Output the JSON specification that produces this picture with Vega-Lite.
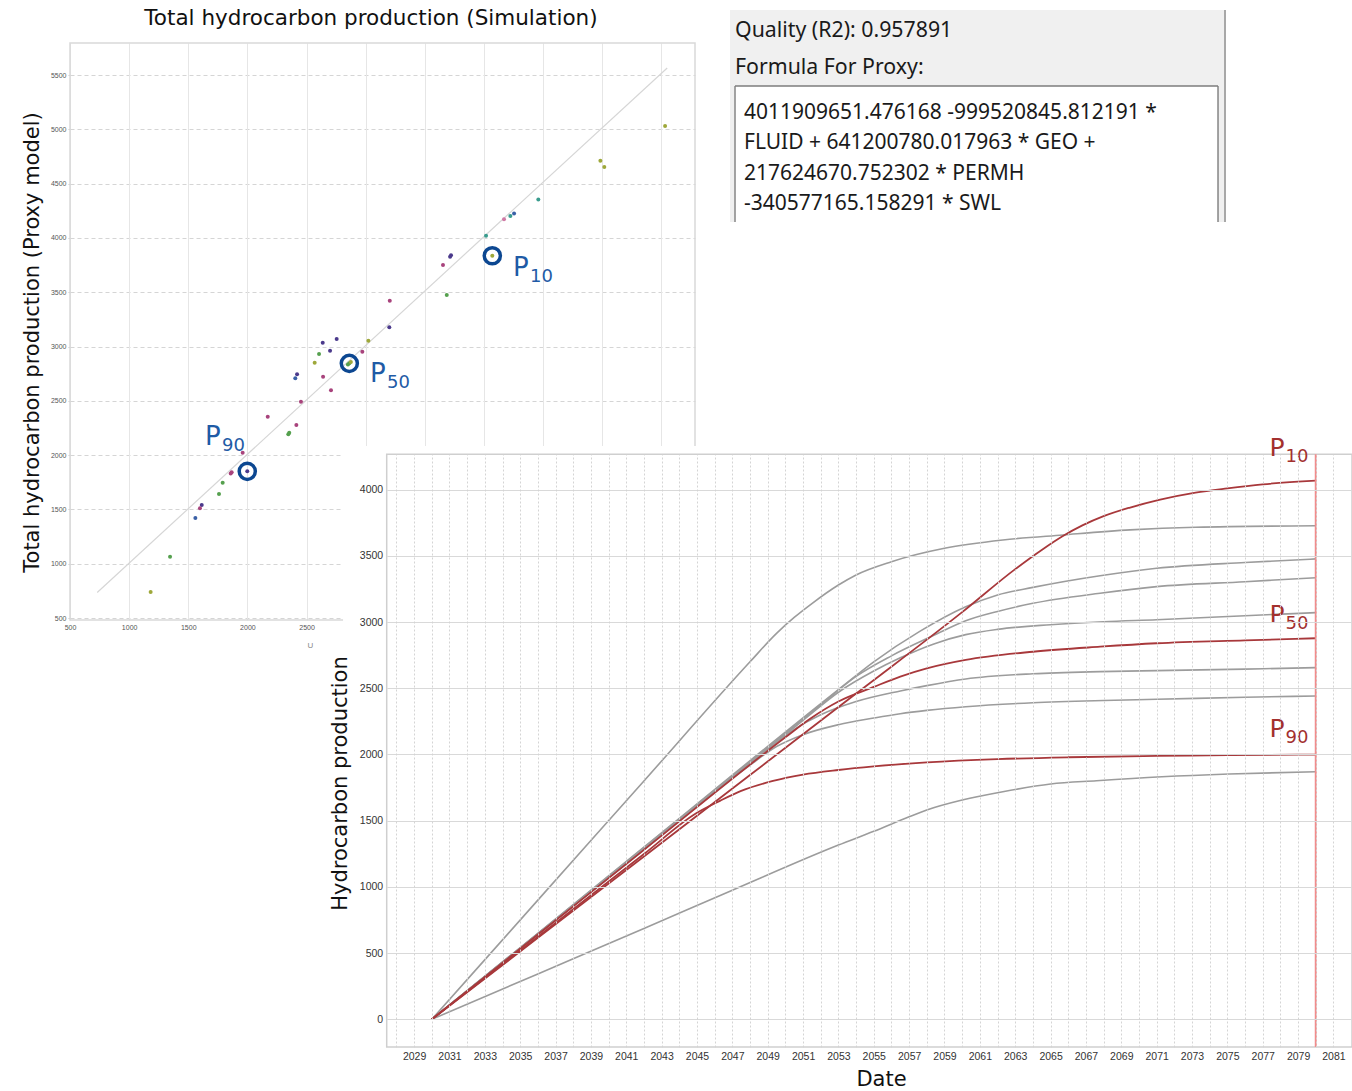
{
  "$schema": "https://vega.github.io/schema/vega-lite/v6.json",
  "width": 1352,
  "height": 1091,
  "autosize": "none",
  "padding": 0,
  "background": "white",
  "config": {"view": {"stroke": null}},
  "data": {"values": [{"frame": "panel"}]},
  "datasets": {
    "scatter": [
      {"sim": 2637, "proxy": 3035, "g": "g1"}, {"sim": 2755, "proxy": 3069, "g": "g1"}, {"sim": 2606, "proxy": 2931, "g": "g2"},
      {"sim": 2699, "proxy": 2961, "g": "g1"}, {"sim": 2569, "proxy": 2851, "g": "g4"}, {"sim": 2405, "proxy": 2707, "g": "g6"},
      {"sim": 2420, "proxy": 2744, "g": "g1"}, {"sim": 2640, "proxy": 2722, "g": "g3"}, {"sim": 2707, "proxy": 2597, "g": "g3"},
      {"sim": 2850, "proxy": 2835, "g": "g2"}, {"sim": 2862, "proxy": 2845, "g": "g2"}, {"sim": 2875, "proxy": 2858, "g": "g4"},
      {"sim": 2453, "proxy": 2492, "g": "g3"}, {"sim": 2172, "proxy": 2354, "g": "g3"}, {"sim": 2414, "proxy": 2277, "g": "g3"},
      {"sim": 2346, "proxy": 2192, "g": "g2"}, {"sim": 2354, "proxy": 2206, "g": "g2"}, {"sim": 1960, "proxy": 2022, "g": "g3"},
      {"sim": 1999, "proxy": 1851, "g": "g1"}, {"sim": 1859, "proxy": 1832, "g": "g3"}, {"sim": 1867, "proxy": 1842, "g": "g3"},
      {"sim": 1791, "proxy": 1746, "g": "g2"}, {"sim": 1760, "proxy": 1642, "g": "g2"}, {"sim": 1614, "proxy": 1540, "g": "g1"},
      {"sim": 1599, "proxy": 1510, "g": "g3"}, {"sim": 1560, "proxy": 1421, "g": "g6"}, {"sim": 1346, "proxy": 1065, "g": "g2"},
      {"sim": 1182, "proxy": 739, "g": "g4"}, {"sim": 5532, "proxy": 5030, "g": "g4"}, {"sim": 4985, "proxy": 4711, "g": "g4"},
      {"sim": 5018, "proxy": 4653, "g": "g4"}, {"sim": 4460, "proxy": 4355, "g": "g5"}, {"sim": 4255, "proxy": 4226, "g": "g6"},
      {"sim": 4224, "proxy": 4202, "g": "g5"}, {"sim": 4170, "proxy": 4171, "g": "g7"}, {"sim": 4018, "proxy": 4020, "g": "g5"},
      {"sim": 4071, "proxy": 3836, "g": "g4"}, {"sim": 3722, "proxy": 3840, "g": "g1"}, {"sim": 3714, "proxy": 3827, "g": "g1"},
      {"sim": 3654, "proxy": 3750, "g": "g3"}, {"sim": 3686, "proxy": 3474, "g": "g2"}, {"sim": 3204, "proxy": 3422, "g": "g3"},
      {"sim": 3200, "proxy": 3177, "g": "g1"}, {"sim": 3023, "proxy": 3053, "g": "g4"}, {"sim": 2972, "proxy": 2952, "g": "g3"}
    ],
    "rings": [
      {"p": "P10", "sim": 4071, "proxy": 3836},
      {"p": "P50", "sim": 2862, "proxy": 2845},
      {"p": "P90", "sim": 1999, "proxy": 1851}
    ],
    "blueLabels": [
      {"sub": "10", "sim": 4246, "proxy": 3649},
      {"sub": "50", "sim": 3037, "proxy": 2673},
      {"sub": "90", "sim": 1642, "proxy": 2093}
    ],
    "redLabels": [
      {"sub": "10", "year": 2077.38, "v": 4254},
      {"sub": "50", "year": 2077.38, "v": 2991},
      {"sub": "90", "year": 2077.38, "v": 2134}
    ],
    "curves": [
      {"s": "A", "year": 2030, "v": 0}, {"s": "A", "year": 2036, "v": 900}, {"s": "A", "year": 2042, "v": 1800}, {"s": "A", "year": 2048, "v": 2700},
      {"s": "A", "year": 2049.5, "v": 2915}, {"s": "A", "year": 2050.5, "v": 3035}, {"s": "A", "year": 2051.5, "v": 3140}, {"s": "A", "year": 2053, "v": 3280},
      {"s": "A", "year": 2054, "v": 3356}, {"s": "A", "year": 2056, "v": 3456}, {"s": "A", "year": 2059, "v": 3557}, {"s": "A", "year": 2062.3, "v": 3620},
      {"s": "A", "year": 2065.7, "v": 3658}, {"s": "A", "year": 2069.5, "v": 3696}, {"s": "A", "year": 2073.2, "v": 3716}, {"s": "A", "year": 2080, "v": 3727},

      {"s": "B", "year": 2030, "v": 0}, {"s": "B", "year": 2036, "v": 650}, {"s": "B", "year": 2042, "v": 1300}, {"s": "B", "year": 2053, "v": 2490},
      {"s": "B", "year": 2055, "v": 2700}, {"s": "B", "year": 2057.6, "v": 2930}, {"s": "B", "year": 2060.2, "v": 3116}, {"s": "B", "year": 2062, "v": 3205},
      {"s": "B", "year": 2064, "v": 3262}, {"s": "B", "year": 2067.8, "v": 3350}, {"s": "B", "year": 2071, "v": 3406}, {"s": "B", "year": 2076, "v": 3450},
      {"s": "B", "year": 2080, "v": 3477},

      {"s": "C", "year": 2030, "v": 0}, {"s": "C", "year": 2036, "v": 648}, {"s": "C", "year": 2042, "v": 1296}, {"s": "C", "year": 2052, "v": 2376},
      {"s": "C", "year": 2054, "v": 2590}, {"s": "C", "year": 2056, "v": 2745}, {"s": "C", "year": 2058.4, "v": 2900}, {"s": "C", "year": 2060.2, "v": 3010},
      {"s": "C", "year": 2062, "v": 3080}, {"s": "C", "year": 2064, "v": 3142}, {"s": "C", "year": 2067.8, "v": 3218}, {"s": "C", "year": 2071, "v": 3268},
      {"s": "C", "year": 2076, "v": 3305}, {"s": "C", "year": 2080, "v": 3335},

      {"s": "D", "year": 2030, "v": 0}, {"s": "D", "year": 2036, "v": 645}, {"s": "D", "year": 2042, "v": 1290}, {"s": "D", "year": 2051, "v": 2258},
      {"s": "D", "year": 2053, "v": 2470}, {"s": "D", "year": 2055, "v": 2630}, {"s": "D", "year": 2056.5, "v": 2730}, {"s": "D", "year": 2058.4, "v": 2835},
      {"s": "D", "year": 2060.2, "v": 2905}, {"s": "D", "year": 2062, "v": 2945}, {"s": "D", "year": 2065, "v": 2980}, {"s": "D", "year": 2068, "v": 3003},
      {"s": "D", "year": 2071, "v": 3018}, {"s": "D", "year": 2076, "v": 3048}, {"s": "D", "year": 2080, "v": 3071},

      {"s": "E", "year": 2030, "v": 0}, {"s": "E", "year": 2036, "v": 645}, {"s": "E", "year": 2042, "v": 1290}, {"s": "E", "year": 2049, "v": 2043},
      {"s": "E", "year": 2050.5, "v": 2190}, {"s": "E", "year": 2052, "v": 2300}, {"s": "E", "year": 2054, "v": 2400}, {"s": "E", "year": 2056.5, "v": 2480},
      {"s": "E", "year": 2058, "v": 2520}, {"s": "E", "year": 2060.2, "v": 2570}, {"s": "E", "year": 2064, "v": 2610}, {"s": "E", "year": 2067.8, "v": 2626},
      {"s": "E", "year": 2071, "v": 2633}, {"s": "E", "year": 2076, "v": 2645}, {"s": "E", "year": 2080, "v": 2656},

      {"s": "F", "year": 2030, "v": 0}, {"s": "F", "year": 2036, "v": 640}, {"s": "F", "year": 2042, "v": 1280}, {"s": "F", "year": 2048, "v": 1920},
      {"s": "F", "year": 2049.5, "v": 2060}, {"s": "F", "year": 2051, "v": 2150}, {"s": "F", "year": 2053, "v": 2225}, {"s": "F", "year": 2055, "v": 2275},
      {"s": "F", "year": 2056.5, "v": 2308}, {"s": "F", "year": 2058, "v": 2333}, {"s": "F", "year": 2060.2, "v": 2361}, {"s": "F", "year": 2064, "v": 2391},
      {"s": "F", "year": 2068, "v": 2408}, {"s": "F", "year": 2071, "v": 2417}, {"s": "F", "year": 2076, "v": 2432}, {"s": "F", "year": 2080, "v": 2442},

      {"s": "G", "year": 2030, "v": 0}, {"s": "G", "year": 2036, "v": 343}, {"s": "G", "year": 2042, "v": 686}, {"s": "G", "year": 2047, "v": 975},
      {"s": "G", "year": 2053, "v": 1316}, {"s": "G", "year": 2055, "v": 1420}, {"s": "G", "year": 2057, "v": 1530}, {"s": "G", "year": 2058, "v": 1581},
      {"s": "G", "year": 2060, "v": 1656}, {"s": "G", "year": 2062.3, "v": 1719}, {"s": "G", "year": 2065, "v": 1777}, {"s": "G", "year": 2067.6, "v": 1802},
      {"s": "G", "year": 2071.3, "v": 1832}, {"s": "G", "year": 2075.1, "v": 1853}, {"s": "G", "year": 2080, "v": 1870},

      {"s": "P10", "year": 2030, "v": 0}, {"s": "P10", "year": 2036, "v": 615}, {"s": "P10", "year": 2042, "v": 1230}, {"s": "P10", "year": 2048, "v": 1845},
      {"s": "P10", "year": 2054, "v": 2460}, {"s": "P10", "year": 2060, "v": 3075}, {"s": "P10", "year": 2063, "v": 3400}, {"s": "P10", "year": 2064.5, "v": 3545},
      {"s": "P10", "year": 2065.7, "v": 3650}, {"s": "P10", "year": 2066.8, "v": 3730}, {"s": "P10", "year": 2068, "v": 3800}, {"s": "P10", "year": 2069.5, "v": 3865},
      {"s": "P10", "year": 2071.2, "v": 3925}, {"s": "P10", "year": 2073.2, "v": 3978}, {"s": "P10", "year": 2075, "v": 4010}, {"s": "P10", "year": 2077, "v": 4040},
      {"s": "P10", "year": 2080, "v": 4068},

      {"s": "P50", "year": 2030, "v": 0}, {"s": "P50", "year": 2036, "v": 640}, {"s": "P50", "year": 2042, "v": 1280}, {"s": "P50", "year": 2050, "v": 2130},
      {"s": "P50", "year": 2051.4, "v": 2270}, {"s": "P50", "year": 2053, "v": 2400}, {"s": "P50", "year": 2055, "v": 2510}, {"s": "P50", "year": 2056.5, "v": 2588},
      {"s": "P50", "year": 2058, "v": 2650}, {"s": "P50", "year": 2060.2, "v": 2714}, {"s": "P50", "year": 2064, "v": 2776}, {"s": "P50", "year": 2067.8, "v": 2814},
      {"s": "P50", "year": 2071, "v": 2840}, {"s": "P50", "year": 2076, "v": 2862}, {"s": "P50", "year": 2080, "v": 2878},

      {"s": "P90", "year": 2030, "v": 0}, {"s": "P90", "year": 2036, "v": 624}, {"s": "P90", "year": 2042, "v": 1248}, {"s": "P90", "year": 2045, "v": 1560},
      {"s": "P90", "year": 2046.3, "v": 1650}, {"s": "P90", "year": 2047.5, "v": 1725}, {"s": "P90", "year": 2049.3, "v": 1800}, {"s": "P90", "year": 2051, "v": 1848},
      {"s": "P90", "year": 2053, "v": 1883}, {"s": "P90", "year": 2055, "v": 1910}, {"s": "P90", "year": 2058, "v": 1940}, {"s": "P90", "year": 2062, "v": 1965},
      {"s": "P90", "year": 2066, "v": 1979}, {"s": "P90", "year": 2071, "v": 1989}, {"s": "P90", "year": 2075, "v": 1995}, {"s": "P90", "year": 2080, "v": 1999}
    ]
  },
  "layer": [
    {
      "layer": [
        {
          "mark": {"type": "rect", "fill": "#f0f0f0"},
          "encoding": {
            "x": {"datum": 0, "type": "quantitative", "scale": {"domain": [0, 1], "range": [730, 1226], "nice": false, "zero": false}, "axis": null},
            "x2": {"datum": 1},
            "y": {"datum": 0, "type": "quantitative", "scale": {"domain": [0, 1], "range": [10, 222], "nice": false, "zero": false}, "axis": null},
            "y2": {"datum": 1}
          }
        },
        {
          "mark": {"type": "rule", "color": "#a8a8a8", "strokeWidth": 2},
          "encoding": {
            "x": {"datum": 0.998, "type": "quantitative", "axis": null},
            "y": {"datum": 0, "type": "quantitative", "axis": null},
            "y2": {"datum": 1}
          }
        },
        {
          "mark": {"type": "rect", "fill": "white"},
          "encoding": {
            "x": {"datum": 0.0101, "type": "quantitative", "axis": null},
            "x2": {"datum": 0.9839},
            "y": {"datum": 0.3585, "type": "quantitative", "axis": null},
            "y2": {"datum": 1}
          }
        },
        {
          "mark": {"type": "rule", "color": "#7d7d7d", "strokeWidth": 1.4},
          "encoding": {
            "x": {"datum": 0.0101, "type": "quantitative", "axis": null},
            "y": {"datum": 0.3585, "type": "quantitative", "axis": null},
            "y2": {"datum": 1}
          }
        },
        {
          "mark": {"type": "rule", "color": "#7d7d7d", "strokeWidth": 1.4},
          "encoding": {
            "x": {"datum": 0.9839, "type": "quantitative", "axis": null},
            "y": {"datum": 0.3585, "type": "quantitative", "axis": null},
            "y2": {"datum": 1}
          }
        },
        {
          "mark": {"type": "rule", "color": "#7d7d7d", "strokeWidth": 1.4},
          "encoding": {
            "x": {"datum": 0.0101, "type": "quantitative", "axis": null},
            "x2": {"datum": 0.9839},
            "y": {"datum": 0.3585, "type": "quantitative", "axis": null}
          }
        },
        {
          "mark": {"type": "text", "text": ["Quality (R2): 0.957891", "Formula For Proxy:"], "lineHeight": 37, "align": "left", "baseline": "alphabetic", "font": "Noto Sans", "fontSize": 21.3, "color": "#1a1a1a"},
          "encoding": {
            "x": {"datum": 0.0101, "type": "quantitative", "axis": null},
            "y": {"datum": 0.1274, "type": "quantitative", "axis": null}
          }
        },
        {
          "mark": {"type": "text", "text": ["4011909651.476168 -999520845.812191 *", "FLUID + 641200780.017963 * GEO +", "217624670.752302 * PERMH", "-340577165.158291 * SWL"], "lineHeight": 30.4, "align": "left", "baseline": "alphabetic", "font": "Noto Sans", "fontSize": 21, "color": "#1a1a1a"},
          "encoding": {
            "x": {"datum": 0.0282, "type": "quantitative", "axis": null},
            "y": {"datum": 0.5142, "type": "quantitative", "axis": null}
          }
        }
      ]
    },
    {
      "mark": {"type": "rect", "fillOpacity": 0, "stroke": "#d9d9d9", "strokeWidth": 1.5},
      "encoding": {
        "x": {"datum": 500, "type": "quantitative", "scale": {"domain": [500, 5785], "range": [70, 695], "nice": false, "zero": false}, "axis": null},
        "x2": {"datum": 5785},
        "y": {"datum": 482, "type": "quantitative", "scale": {"domain": [482, 5795], "range": [620, 43], "nice": false, "zero": false}, "axis": null},
        "y2": {"datum": 5795}
      }
    },
    {
      "mark": {"type": "rule", "color": "#d6d6d6", "strokeWidth": 1.2},
      "encoding": {
        "x": {"datum": 730, "type": "quantitative", "scale": {"domain": [500, 5785], "range": [70, 695], "nice": false, "zero": false}, "axis": null},
        "x2": {"datum": 5550},
        "y": {"datum": 735, "type": "quantitative", "scale": {"domain": [482, 5795], "range": [620, 43], "nice": false, "zero": false}, "axis": null},
        "y2": {"datum": 5565}
      }
    },
    {
      "data": {"name": "scatter"},
      "mark": {"type": "circle", "size": 16, "opacity": 1},
      "encoding": {
        "x": {
          "field": "sim", "type": "quantitative",
          "scale": {"domain": [500, 5785], "range": [70, 695], "nice": false, "zero": false},
          "axis": {
            "orient": "bottom", "offset": -471,
            "values": [500, 1000, 1500, 2000, 2500, 3000, 3500, 4000, 4500, 5000, 5500],
            "format": "d",
            "labelExpr": "datum.value <= 2500 ? datum.label : ''",
            "grid": false,
            "domain": false, "ticks": true, "tickSize": -577, "tickColor": "#e6e6e6", "tickWidth": 1,
            "labelFont": "Liberation Sans", "labelFontSize": 7, "labelColor": "#555555", "labelPadding": 580,
            "labelFlush": false, "labelOverlap": false,
            "title": "U", "titleFont": "Liberation Sans", "titleFontSize": 8, "titleFontWeight": "normal", "titleColor": "#888888",
            "titleX": 310, "titleY": 27, "titleAlign": "center", "titleBaseline": "alphabetic"
          }
        },
        "y": {
          "field": "proxy", "type": "quantitative",
          "scale": {"domain": [482, 5795], "range": [620, 43], "nice": false, "zero": false},
          "axis": {
            "orient": "left", "offset": -70,
            "values": [500, 1000, 1500, 2000, 2500, 3000, 3500, 4000, 4500, 5000, 5500],
            "format": "d",
            "grid": true, "gridColor": "#d5d5d5", "gridDash": [4, 3],
            "domain": false, "ticks": true, "tickSize": 2, "tickColor": "#c8c8c8",
            "labelFont": "Liberation Sans", "labelFontSize": 7, "labelColor": "#555555", "labelPadding": 2,
            "labelFlush": false, "labelOverlap": false,
            "title": "Total hydrocarbon production (Proxy model)", "titleFont": "DejaVu Sans", "titleFontSize": 21,
            "titleFontWeight": "normal", "titleColor": "#111111",
            "titleX": -32, "titleY": 342, "titleAngle": -90, "titleAlign": "center", "titleBaseline": "alphabetic"
          }
        },
        "color": {
          "field": "g", "type": "nominal", "legend": null,
          "scale": {"domain": ["g1", "g2", "g3", "g4", "g5", "g6", "g7"], "range": ["#4b3a8c", "#55a04e", "#a8437c", "#9ea83a", "#3a9c8e", "#3a60a6", "#d07aa6"]}
        }
      }
    },
    {
      "data": {"name": "rings"},
      "mark": {"type": "point", "shape": "circle", "filled": false, "size": 260, "strokeWidth": 3.5, "color": "#0c4791", "opacity": 1},
      "encoding": {
        "x": {"field": "sim", "type": "quantitative", "scale": {"domain": [500, 5785], "range": [70, 695], "nice": false, "zero": false}, "axis": null},
        "y": {"field": "proxy", "type": "quantitative", "scale": {"domain": [482, 5795], "range": [620, 43], "nice": false, "zero": false}, "axis": null}
      }
    },
    {
      "data": {"name": "blueLabels"},
      "mark": {"type": "text", "text": "P", "align": "left", "baseline": "alphabetic", "font": "DejaVu Sans", "fontSize": 26, "color": "#1f5ba6"},
      "encoding": {
        "x": {"field": "sim", "type": "quantitative", "scale": {"domain": [500, 5785], "range": [70, 695], "nice": false, "zero": false}, "axis": null},
        "y": {"field": "proxy", "type": "quantitative", "scale": {"domain": [482, 5795], "range": [620, 43], "nice": false, "zero": false}, "axis": null}
      }
    },
    {
      "data": {"name": "blueLabels"},
      "mark": {"type": "text", "align": "left", "baseline": "alphabetic", "font": "DejaVu Sans", "fontSize": 18, "color": "#1f5ba6", "dx": 17, "dy": 6},
      "encoding": {
        "x": {"field": "sim", "type": "quantitative", "scale": {"domain": [500, 5785], "range": [70, 695], "nice": false, "zero": false}, "axis": null},
        "y": {"field": "proxy", "type": "quantitative", "scale": {"domain": [482, 5795], "range": [620, 43], "nice": false, "zero": false}, "axis": null},
        "text": {"field": "sub"}
      }
    },
    {
      "mark": {"type": "text", "text": "Total hydrocarbon production (Simulation)", "align": "center", "baseline": "alphabetic", "font": "DejaVu Sans", "fontSize": 21.5, "color": "#111111"},
      "encoding": {
        "x": {"datum": 3045, "type": "quantitative", "scale": {"domain": [500, 5785], "range": [70, 695], "nice": false, "zero": false}, "axis": null},
        "y": {"datum": 5960, "type": "quantitative", "scale": {"domain": [482, 5795], "range": [620, 43], "nice": false, "zero": false}, "axis": null}
      }
    },
    {
      "mark": {"type": "rect", "fill": "white"},
      "encoding": {
        "x": {"datum": 2024.98, "type": "quantitative", "scale": {"domain": [2027.45, 2082.05], "range": [386.7, 1352], "nice": false, "zero": false}, "axis": null},
        "x2": {"datum": 2086},
        "y": {"datum": -541, "type": "quantitative", "scale": {"domain": [-209, 4267], "range": [1047, 454.3], "nice": false, "zero": false}, "axis": null},
        "y2": {"datum": 4330}
      }
    },
    {
      "mark": {"type": "rect", "fillOpacity": 0, "stroke": "#cfcfcf", "strokeWidth": 1.5},
      "encoding": {
        "x": {"datum": 2027.45, "type": "quantitative", "scale": {"domain": [2027.45, 2082.05], "range": [386.7, 1352], "nice": false, "zero": false}, "axis": null},
        "x2": {"datum": 2082.05},
        "y": {"datum": -209, "type": "quantitative", "scale": {"domain": [-209, 4267], "range": [1047, 454.3], "nice": false, "zero": false}, "axis": null},
        "y2": {"datum": 4267}
      }
    },
    {
      "data": {"name": "curves"},
      "transform": [{"filter": {"not": {"field": "s", "oneOf": ["P10", "P50", "P90"]}}}],
      "mark": {"type": "line", "color": "#9c9c9c", "strokeWidth": 1.6, "interpolate": "monotone"},
      "encoding": {
        "x": {
          "field": "year", "type": "quantitative",
          "scale": {"domain": [2027.45, 2082.05], "range": [386.7, 1352], "nice": false, "zero": false},
          "axis": {
            "orient": "bottom", "offset": -44,
            "values": [2028, 2029, 2030, 2031, 2032, 2033, 2034, 2035, 2036, 2037, 2038, 2039, 2040, 2041, 2042, 2043, 2044, 2045, 2046, 2047, 2048, 2049, 2050, 2051, 2052, 2053, 2054, 2055, 2056, 2057, 2058, 2059, 2060, 2061, 2062, 2063, 2064, 2065, 2066, 2067, 2068, 2069, 2070, 2071, 2072, 2073, 2074, 2075, 2076, 2077, 2078, 2079, 2080, 2081],
            "format": "d",
            "labelExpr": "datum.value % 2 === 1 ? datum.label : ''",
            "grid": false,
            "domain": false, "ticks": true, "tickSize": -592.7, "tickColor": "#d4d4d4", "tickDash": [2, 2], "tickWidth": 1,
            "labelFont": "Liberation Sans", "labelFontSize": 10.5, "labelColor": "#333333", "labelPadding": 596.7,
            "labelFlush": false, "labelOverlap": false,
            "title": "Date", "titleFont": "DejaVu Sans", "titleFontSize": 21, "titleFontWeight": "normal", "titleColor": "#111111",
            "titleX": 881, "titleY": 38, "titleAlign": "center", "titleBaseline": "alphabetic",
            "zindex": 1
          }
        },
        "y": {
          "field": "v", "type": "quantitative",
          "scale": {"domain": [-209, 4267], "range": [1047, 454.3], "nice": false, "zero": false},
          "axis": {
            "orient": "left", "offset": -386.7,
            "values": [0, 500, 1000, 1500, 2000, 2500, 3000, 3500, 4000],
            "format": "d",
            "grid": true, "gridColor": "#d9d9d9",
            "domain": false, "ticks": false,
            "labelFont": "Liberation Sans", "labelFontSize": 10.5, "labelColor": "#333333", "labelPadding": 4,
            "labelFlush": false, "labelOverlap": false,
            "title": "Hydrocarbon production", "titleFont": "DejaVu Sans", "titleFontSize": 21, "titleFontWeight": "normal", "titleColor": "#111111",
            "titleX": -40, "titleY": 783, "titleAngle": -90, "titleAlign": "center", "titleBaseline": "alphabetic",
            "zindex": 1
          }
        },
        "detail": {"field": "s"}
      }
    },
    {
      "data": {"name": "curves"},
      "transform": [{"filter": {"field": "s", "oneOf": ["P10", "P50", "P90"]}}],
      "mark": {"type": "line", "color": "#a8383b", "strokeWidth": 1.8, "interpolate": "monotone"},
      "encoding": {
        "x": {"field": "year", "type": "quantitative", "scale": {"domain": [2027.45, 2082.05], "range": [386.7, 1352], "nice": false, "zero": false}, "axis": null},
        "y": {"field": "v", "type": "quantitative", "scale": {"domain": [-209, 4267], "range": [1047, 454.3], "nice": false, "zero": false}, "axis": null},
        "detail": {"field": "s"}
      }
    },
    {
      "mark": {"type": "rule", "color": "#f08c8c", "strokeWidth": 2},
      "encoding": {
        "x": {"datum": 2080, "type": "quantitative", "scale": {"domain": [2027.45, 2082.05], "range": [386.7, 1352], "nice": false, "zero": false}, "axis": null},
        "y": {"datum": -209, "type": "quantitative", "scale": {"domain": [-209, 4267], "range": [1047, 454.3], "nice": false, "zero": false}, "axis": null},
        "y2": {"datum": 4267}
      }
    },
    {
      "data": {"name": "redLabels"},
      "mark": {"type": "text", "text": "P", "align": "left", "baseline": "alphabetic", "font": "DejaVu Sans", "fontSize": 25, "color": "#a3302e"},
      "encoding": {
        "x": {"field": "year", "type": "quantitative", "scale": {"domain": [2027.45, 2082.05], "range": [386.7, 1352], "nice": false, "zero": false}, "axis": null},
        "y": {"field": "v", "type": "quantitative", "scale": {"domain": [-209, 4267], "range": [1047, 454.3], "nice": false, "zero": false}, "axis": null}
      }
    },
    {
      "data": {"name": "redLabels"},
      "mark": {"type": "text", "align": "left", "baseline": "alphabetic", "font": "DejaVu Sans", "fontSize": 18, "color": "#a3302e", "dx": 16, "dy": 6},
      "encoding": {
        "x": {"field": "year", "type": "quantitative", "scale": {"domain": [2027.45, 2082.05], "range": [386.7, 1352], "nice": false, "zero": false}, "axis": null},
        "y": {"field": "v", "type": "quantitative", "scale": {"domain": [-209, 4267], "range": [1047, 454.3], "nice": false, "zero": false}, "axis": null},
        "text": {"field": "sub"}
      }
    }
  ],
  "resolve": {
    "scale": {"x": "independent", "y": "independent"},
    "axis": {"x": "independent", "y": "independent"}
  }
}
